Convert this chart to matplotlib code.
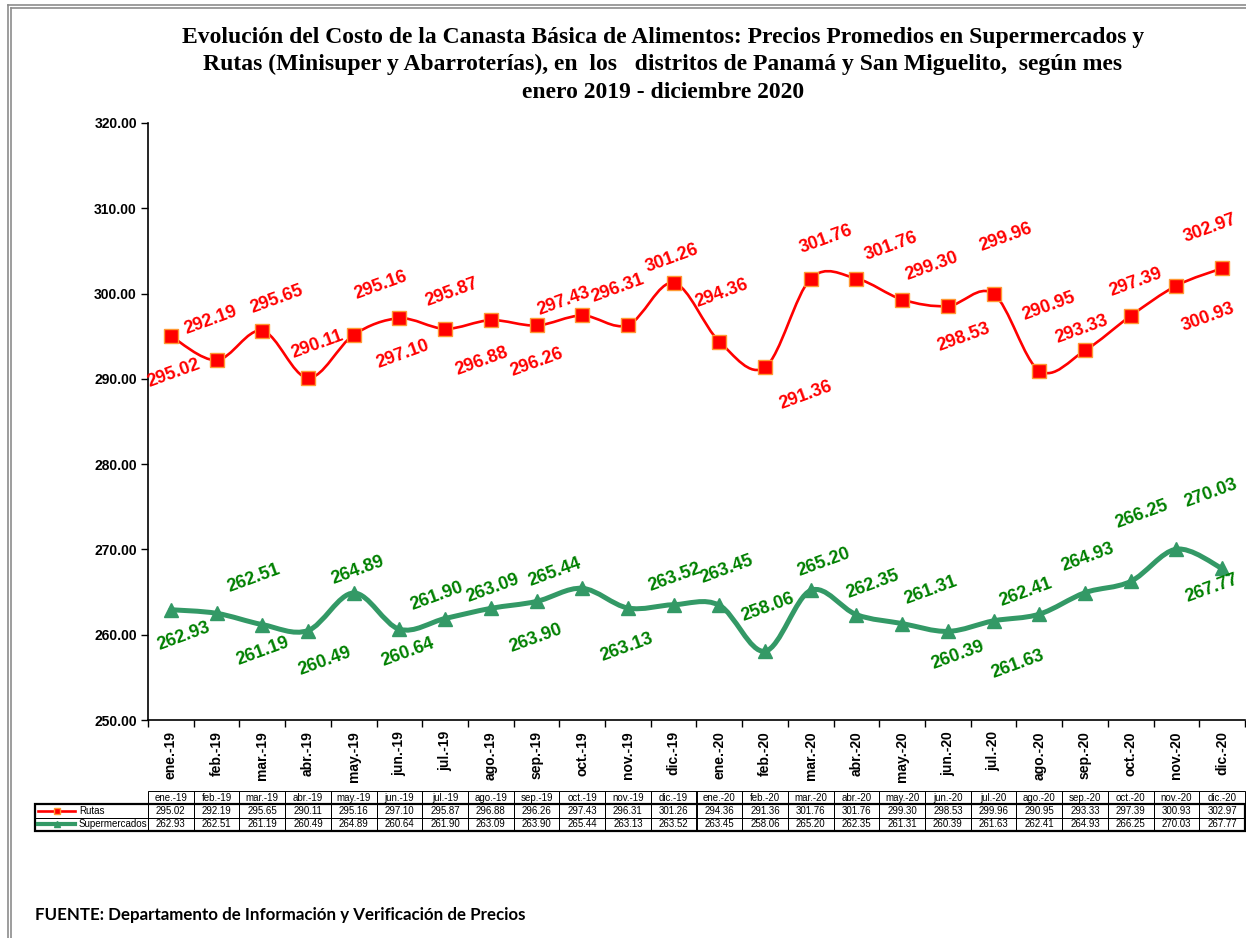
import numpy as np
import matplotlib
matplotlib.use('Agg')
import matplotlib.pyplot as plt
from matplotlib.path import Path
from matplotlib.patches import PathPatch, Rectangle
from matplotlib.lines import Line2D

# datos
meses = ['ene.-19', 'feb.-19', 'mar.-19', 'abr.-19', 'may.-19', 'jun.-19',
         'jul.-19', 'ago.-19', 'sep.-19', 'oct.-19', 'nov.-19', 'dic.-19',
         'ene.-20', 'feb.-20', 'mar.-20', 'abr.-20', 'may.-20', 'jun.-20',
         'jul.-20', 'ago.-20', 'sep.-20', 'oct.-20', 'nov.-20', 'dic.-20']
rutas = [295.02, 292.19, 295.65, 290.11, 295.16, 297.10, 295.87, 296.88,
         296.26, 297.43, 296.31, 301.26, 294.36, 291.36, 301.76, 301.76,
         299.30, 298.53, 299.96, 290.95, 293.33, 297.39, 300.93, 302.97]
supermercados = [262.93, 262.51, 261.19, 260.49, 264.89, 260.64, 261.90,
                 263.09, 263.90, 265.44, 263.13, 263.52, 263.45, 258.06,
                 265.20, 262.35, 261.31, 260.39, 261.63, 262.41, 264.93,
                 266.25, 270.03, 267.77]
series_names = ['Rutas', 'Supermercados']

# posicion de las etiquetas (pixeles, dx y dy hacia abajo)
off_rutas = [(3, 37), (-6, -40), (14, -31), (9, -33), (27, -50), (3, 36),
             (7, -36), (-9, 41), (0, 37), (-18, -14), (-10, -37), (-2, -25),
             (2, -48), (41, 28), (15, -39), (35, -32), (30, -33), (16, 31),
             (12, -57), (9, -64), (-3, -21), (5, -33), (32, 32), (-12, -40)]
off_super = [(13, 27), (37, -35), (0, 27), (17, 31), (4, -23), (8, 23),
             (-8, -22), (2, -20), (-1, 37), (-27, -16), (-1, 39), (1, -27),
             (7, -36), (3, -44), (13, -28), (16, -30), (29, -33), (10, 24),
             (24, 44), (-14, -22), (3, -35), (11, -67), (34, -56), (-10, 20)]

RED = '#FF0000'
GREEN_LINE = '#339966'
GREEN_TXT = '#008000'
ARIAL = 'Liberation Sans'


def smooth_path(x, y):
    # curva suavizada estilo Excel (Catmull-Rom con Bezier cubicas)
    pts = np.column_stack([x, y]).astype(float)
    n = len(pts)
    verts = [pts[0]]
    codes = [Path.MOVETO]
    for i in range(n - 1):
        p0 = pts[max(i - 1, 0)]
        p1 = pts[i]
        p2 = pts[i + 1]
        p3 = pts[min(i + 2, n - 1)]
        c1 = p1 + (p2 - p0) / 6.0
        c2 = p2 - (p3 - p1) / 6.0
        verts += [c1, c2, p2]
        codes += [Path.CURVE4] * 3
    return Path(verts, codes)


W, H = 1246, 938
fig = plt.figure(figsize=(W / 100, H / 100), dpi=100)

x0, x1 = 148, 1245
ytop, ybot = 123, 720
ax = fig.add_axes([x0 / W, 1 - ybot / H, (x1 - x0) / W, (ybot - ytop) / H])

x = np.arange(len(meses))

ax.add_patch(PathPatch(smooth_path(x, rutas), fill=False, edgecolor=RED,
                       lw=1.9, zorder=3, capstyle='round'))
ax.plot(x, rutas, ls='none', marker='s', ms=10.5, mfc=RED,
        mec='#FF9933', mew=1.0, zorder=4)

ax.add_patch(PathPatch(smooth_path(x, supermercados), fill=False,
                       edgecolor=GREEN_LINE, lw=3.6, zorder=3,
                       capstyle='round'))
ax.plot(x, supermercados, ls='none', marker='^', ms=10, mfc=GREEN_LINE,
        mec=GREEN_LINE, zorder=4)

for xi, v, (dx, dy) in zip(x, rutas, off_rutas):
    ax.annotate(f'{v:.2f}', (xi, v), xytext=(dx, -dy),
                textcoords='offset pixels', ha='center', va='center',
                rotation=20, color=RED, fontsize=13, fontweight='bold',
                family=ARIAL, zorder=5)
for xi, v, (dx, dy) in zip(x, supermercados, off_super):
    ax.annotate(f'{v:.2f}', (xi, v), xytext=(dx, -dy),
                textcoords='offset pixels', ha='center', va='center',
                rotation=20, color=GREEN_TXT, fontsize=13, fontweight='bold',
                family=ARIAL, zorder=5)

ax.set_xlim(-0.5, len(meses) - 0.5)
ax.set_ylim(250, 320)
ax.set_yticks(np.arange(250, 321, 10))
ax.set_yticklabels([f'{t:.2f}' for t in np.arange(250, 321, 10)],
                   fontsize=10, fontweight='bold', family=ARIAL)
ax.set_xticks(x)
ax.set_xticklabels(meses, rotation=90, fontsize=10, fontweight='bold',
                   family=ARIAL)
ax.set_xticks(np.arange(-0.5, len(meses), 1), minor=True)
ax.tick_params(axis='x', which='major', length=0, pad=8)
ax.tick_params(axis='x', which='minor', length=5, width=1, direction='out')
ax.tick_params(axis='y', length=5, width=1, direction='out', pad=3)
for s in ['top', 'right']:
    ax.spines[s].set_visible(False)
for s in ['left', 'bottom']:
    ax.spines[s].set_linewidth(1.2)

# titulo
titulo = ['Evolución del Costo de la Canasta Básica de Alimentos: Precios Promedios en Supermercados y',
          'Rutas (Minisuper y Abarroterías), en  los   distritos de Panamá y San Miguelito,  según mes',
          'enero 2019 - diciembre 2020']
for k, t in enumerate(titulo):
    fig.text(663 / W, 1 - (37 + 27.5 * k) / H, t, ha='center', va='center',
             fontsize=17, fontweight='bold', family='Liberation Serif')

# tabla de datos
tt, tb = 791, 831
tab = fig.add_axes([x0 / W, 1 - tb / H, (x1 - x0) / W, (tb - tt) / H])
tab.set_xlim(-0.5, len(meses) - 0.5)
tab.set_ylim(0, 3)
tab.axis('off')
leg_x = -0.5 + (35 - x0) / ((x1 - x0) / len(meses))
tfs = 7
for i, m in enumerate(meses):
    tab.add_patch(Rectangle((i - 0.5, 2), 1, 1, fill=False, lw=0.7,
                            ec='black', clip_on=False))
    tab.text(i, 2.5, m, ha='center', va='center', fontsize=tfs,
             family=ARIAL)
    for r, serie in enumerate([rutas, supermercados]):
        yr = 1 - r
        tab.add_patch(Rectangle((i - 0.5, yr), 1, 1, fill=False, lw=0.7,
                                ec='black', clip_on=False))
        tab.text(i, yr + 0.5, f'{serie[i]:.2f}', ha='center', va='center',
                 fontsize=tfs, family=ARIAL)
for r, name in enumerate(series_names):
    yr = 1 - r
    tab.add_patch(Rectangle((leg_x, yr), -0.5 - leg_x, 1, fill=False,
                            lw=0.7, ec='black', clip_on=False))
    tab.text(leg_x + 0.96, yr + 0.5, name, ha='left', va='center',
             fontsize=tfs, family=ARIAL, clip_on=False)
tab.add_patch(Rectangle((leg_x, 0), len(meses) - 0.5 - leg_x, 2, fill=False,
                        lw=1.6, ec='black', clip_on=False))
tab.plot([leg_x + 0.07, leg_x + 0.88], [1.5, 1.5], color=RED, lw=1.9,
         clip_on=False)
tab.plot([leg_x + 0.48], [1.5], ls='none', marker='s', ms=5, mfc=RED,
         mec='#FF9933', clip_on=False)
tab.plot([leg_x + 0.07, leg_x + 0.88], [0.5, 0.5], color=GREEN_LINE, lw=3,
         clip_on=False)
tab.plot([leg_x + 0.48], [0.5], ls='none', marker='^', ms=5,
         mfc=GREEN_LINE, mec=GREEN_LINE, clip_on=False)

# fuente
fig.text(35 / W, 1 - 915 / H,
         'FUENTE: Departamento de Información y Verificación de Precios',
         ha='left', va='center', fontsize=12.2, fontweight='bold',
         family='Lato')

# marco doble
for px in (8, 11):
    fig.add_artist(Line2D([px / W, px / W], [0, 1 - (px - 3) / H],
                          color='#8c8c8c', lw=1.2))
for py in (5, 8):
    fig.add_artist(Line2D([(py + 3) / W, 1], [1 - py / H, 1 - py / H],
                          color='#8c8c8c', lw=1.2))

fig.savefig('out.png', dpi=100)
